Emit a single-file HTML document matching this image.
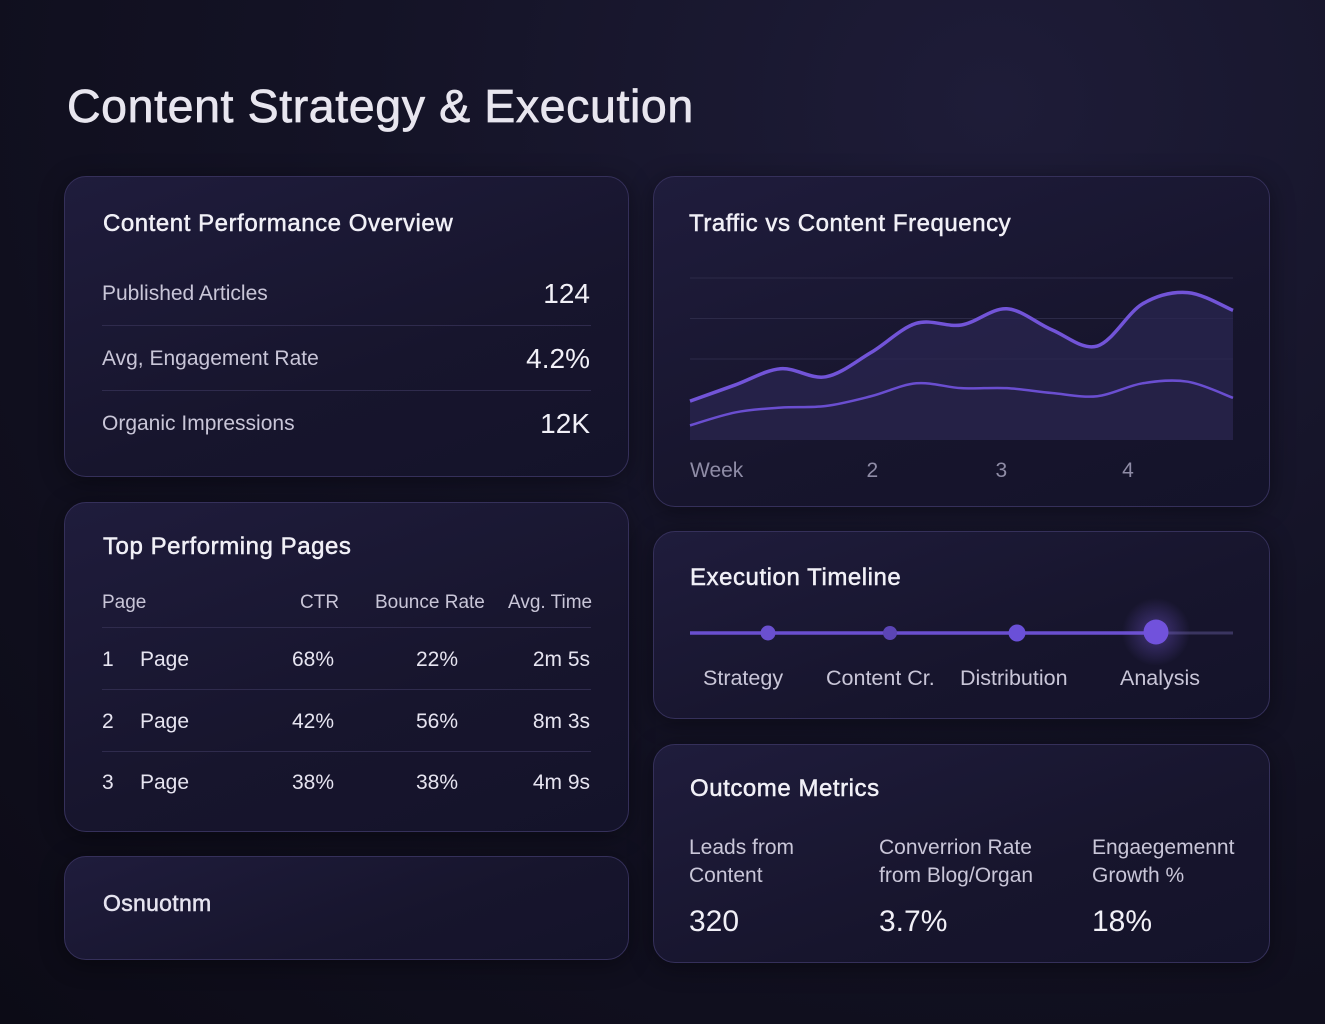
<!DOCTYPE html>
<html><head><meta charset="utf-8">
<style>
*{box-sizing:border-box;margin:0;padding:0}
body{width:1325px;height:1024px;overflow:hidden;font-family:"Liberation Sans","DejaVu Sans",sans-serif;color:#e6e4f0;
background:radial-gradient(ellipse at 75% 10%,#1e1c38 0%,#141326 45%,#0c0b16 100%);position:relative}
.card{position:absolute;border:1.5px solid #35305a;border-radius:22px;background:linear-gradient(160deg,#1f1c3c 0%,#17152d 60%,#14132a 100%);box-shadow:0 4px 24px rgba(0,0,0,.4)}
.t{position:absolute;white-space:nowrap}
h1{position:absolute;left:67px;top:79px;font-size:46.5px;font-weight:500;color:#e8e6ef;letter-spacing:.6px;-webkit-text-stroke:.7px #e8e6ef}
.h{font-size:24px;color:#f1f0f7;letter-spacing:.55px;-webkit-text-stroke:.5px #f1f0f7}
.lab{font-size:21px;color:#c9c6d8}
.val{font-size:28px;color:#f1f0f7}
.sep{position:absolute;height:1px;background:#2f2b4d}
.cell{font-size:21px;color:#e6e4f0}
</style></head><body>
<h1>Content Strategy &amp; Execution</h1>

<div class="card" style="left:64px;top:176px;width:565px;height:301px">
 <div class="t h" style="left:38px;top:33px">Content Performance Overview</div>
 <div class="t lab" style="left:37px;top:105px">Published Articles</div>
 <div class="t val" style="right:38px;top:101px">124</div>
 <div class="sep" style="left:37px;right:37px;top:148px"></div>
 <div class="t lab" style="left:37px;top:170px">Avg, Engagement Rate</div>
 <div class="t val" style="right:38px;top:166px">4.2%</div>
 <div class="sep" style="left:37px;right:37px;top:213px"></div>
 <div class="t lab" style="left:37px;top:235px">Organic Impressions</div>
 <div class="t val" style="right:38px;top:231px">12K</div>
</div>

<div class="card" style="left:64px;top:502px;width:565px;height:330px">
 <div class="t h" style="left:38px;top:30px">Top Performing Pages</div>
 <div class="t lab" style="left:37px;top:89px;font-size:19px">Page</div>
 <div class="t lab" style="left:235px;top:89px;font-size:19px">CTR</div>
 <div class="t lab" style="left:310px;top:89px;font-size:19px">Bounce Rate</div>
 <div class="t lab" style="left:443px;top:89px;font-size:19px">Avg. Time</div>
 <div class="sep" style="left:37px;right:37px;top:124px"></div>
 <div id="rows"></div>
</div>

<div class="card" style="left:64px;top:856px;width:565px;height:104px">
 <div class="t" style="left:38px;top:33px;font-size:23px;color:#e6e4f0;letter-spacing:.3px;-webkit-text-stroke:.5px #e6e4f0">Osnuotnm</div>
</div>

<div class="card" style="left:653px;top:176px;width:617px;height:331px">
 <div class="t h" style="left:35px;top:33px">Traffic vs Content Frequency</div>
</div>
<svg id="chart" style="position:absolute;left:0;top:0" width="1325" height="1024"></svg>

<div class="card" style="left:653px;top:531px;width:617px;height:188px">
 <div class="t h" style="left:36px;top:32px">Execution Timeline</div>
</div>
<svg style="position:absolute;left:0;top:0;pointer-events:none" width="1325" height="1024">
 <defs><radialGradient id="glow"><stop offset="0" stop-color="#7b5ce0" stop-opacity=".45"/><stop offset="1" stop-color="#7b5ce0" stop-opacity="0"/></radialGradient></defs>
 <line x1="1156" y1="633" x2="1233" y2="633" stroke="#3a3560" stroke-width="3"/>
 <line x1="690" y1="633" x2="1156" y2="633" stroke="#6a4fd0" stroke-width="3.5"/>
 <circle cx="1156" cy="632" r="34" fill="url(#glow)"/>
 <circle cx="768" cy="633" r="7.5" fill="#6a50cf"/>
 <circle cx="890" cy="633" r="7" fill="#5b45b5"/>
 <circle cx="1017" cy="633" r="8.5" fill="#6a50d8"/>
 <circle cx="1156" cy="632" r="12.5" fill="#7152dc"/>
</svg>
<div class="t lab" style="left:703px;top:666px;font-size:21.5px">Strategy</div>
<div class="t lab" style="left:826px;top:666px;font-size:21.5px">Content Cr.</div>
<div class="t lab" style="left:960px;top:666px;font-size:21.5px">Distribution</div>
<div class="t lab" style="left:1120px;top:666px;font-size:21.5px">Analysis</div>

<div class="card" style="left:653px;top:744px;width:617px;height:219px">
 <div class="t h" style="left:36px;top:30px">Outcome Metrics</div>
 <div class="t lab" style="left:35px;top:89px;line-height:28px">Leads from<br>Content</div>
 <div class="t lab" style="left:225px;top:89px;line-height:28px">Converrion Rate<br>from Blog/Organ</div>
 <div class="t lab" style="left:438px;top:89px;line-height:28px">Engaegemennt<br>Growth %</div>
 <div class="t val" style="left:35px;top:160px;font-size:30px">320</div>
 <div class="t val" style="left:225px;top:160px;font-size:30px">3.7%</div>
 <div class="t val" style="left:438px;top:160px;font-size:30px">18%</div>
</div>

<script>
// table data
const pageIds=["1","2","3"];
const ctrVals=["68%","42%","38%"];
const bounceVals=["22%","56%","38%"];
const timeVals=["2m 5s","8m 3s","4m 9s"];
const rows=document.getElementById('rows');
pageIds.forEach((id,i)=>{
  const y=145+i*61.5;
  const r=document.createElement('div');
  
  
  r.innerHTML=`<div class="t cell" style="left:37px;top:${y}px">${id}</div><div class="t cell" style="left:75px;top:${y}px">Page</div>
  <div class="t cell" style="left:227px;top:${y}px">${ctrVals[i]}</div><div class="t cell" style="left:351px;top:${y}px">${bounceVals[i]}</div>
  <div class="t cell" style="right:38px;top:${y}px">${timeVals[i]}</div>`+(i<2?`<div class="sep" style="left:37px;right:37px;top:${y+41}px"></div>`:'');
  rows.appendChild(r);
});

// chart data
const trafficVals=[24,34,44,39,54,72,71,81,68,58,84,91,80];
const contentVals=[9,17,20,21,27,35,32,32,29,27,35,36,26];
const weekLabels=["Week","2","3","4"];
const weekLabelIdx=[0,3.9,6.75,9.55];
const X0=690,X1=1233,Y0=440,Y1=278;
const xs=i=>X0+(X1-X0)*i/(trafficVals.length-1);
const ys=v=>Y0-(Y0-Y1)*v/100;
const NS='http://www.w3.org/2000/svg';
const svg=document.getElementById('chart');
function mk(tag,a){const e=document.createElementNS(NS,tag);for(const k in a)e.setAttribute(k,a[k]);svg.appendChild(e);return e;}
function path(vals){
  const p=vals.map((v,i)=>[xs(i),ys(v)]);
  let d=`M${p[0][0]},${p[0][1]}`;
  for(let i=0;i<p.length-1;i++){
    const a=p[Math.max(i-1,0)],b=p[i],c=p[i+1],e=p[Math.min(i+2,p.length-1)];
    d+=` C${b[0]+(c[0]-a[0])/6},${b[1]+(c[1]-a[1])/6} ${c[0]-(e[0]-b[0])/6},${c[1]-(e[1]-b[1])/6} ${c[0]},${c[1]}`;
  }
  return d;
}
[100,75,50].forEach(v=>{
  const g=mk('line',{x1:X0,x2:X1,y1:ys(v),y2:ys(v),stroke:'#2c2a48','stroke-width':1});
  
  
});
const dU=path(trafficVals),dL=path(contentVals);
const a1=mk('path',{d:dU+` L${X1},${Y0} L${X0},${Y0} Z`,fill:'#2a2650','fill-opacity':.75});


const a2=mk('path',{d:dL+` L${X1},${Y0} L${X0},${Y0} Z`,fill:'#262246','fill-opacity':.6});


const l1=mk('path',{d:dU,fill:'none',stroke:'#7254d8','stroke-width':3.5});


const l2=mk('path',{d:dL,fill:'none',stroke:'#6a4ed0','stroke-width':2.5});


weekLabels.forEach((w,i)=>{
  const t=mk('text',{x:xs(weekLabelIdx[i]),y:477,fill:'#8f8ca6','font-size':21,'font-family':'Liberation Sans, sans-serif'});
  t.textContent=w;
  
  
});
</script>
</body></html>
